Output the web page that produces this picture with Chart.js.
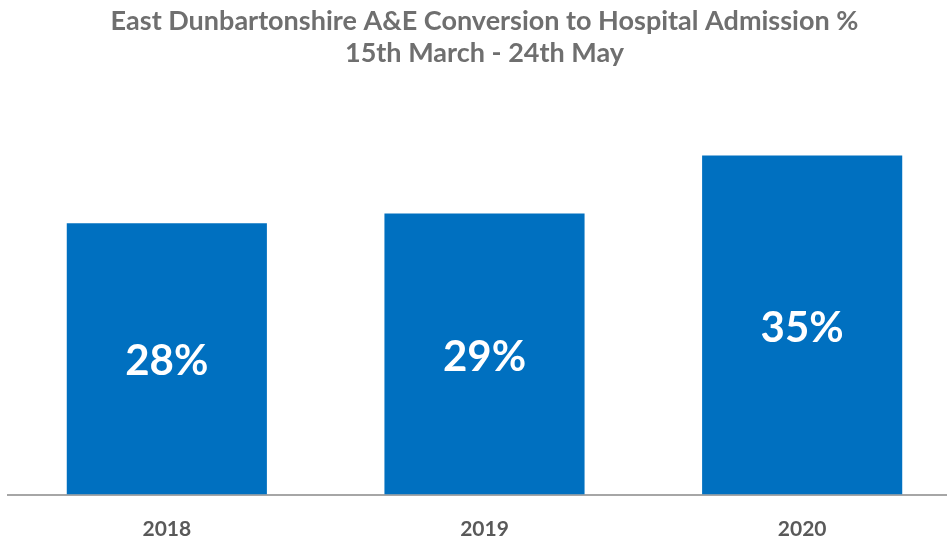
<!DOCTYPE html>
<html>
<head>
<meta charset="utf-8">
<script src="https://cdn.jsdelivr.net/npm/chart.js@4"></script>
<style>
  html, body { margin: 0; padding: 0; background: #fff; overflow: hidden; }
  #wrap { width: 961px; height: 538px; }
</style>
</head>
<body>
<div id="wrap"><canvas id="myChart" width="961" height="538"></canvas></div>
<script>
const years = ['2018', '2019', '2020'];
const conversion = [28, 29, 35];
const titleLines = ['East Dunbartonshire A&E Conversion to Hospital Admission %', '15th March - 24th May'];

// white % labels in the middle of each bar
const barLabels = {
  id: 'barLabels',
  afterDatasetsDraw(chart) {
    const ctx = chart.ctx;
    const meta = chart.getDatasetMeta(0);
    ctx.save();
    ctx.fillStyle = '#ffffff';
    ctx.font = 'bold 42px Lato';
    ctx.textAlign = 'center';
    ctx.textBaseline = 'middle';
    meta.data.forEach(function(bar, i) {
      ctx.fillText(conversion[i] + '%', bar.x, (bar.y + bar.base) / 2 + 3);
    });
    ctx.restore();
  }
};

new Chart(document.getElementById('myChart'), {
  type: 'bar',
  data: {
    labels: years,
    datasets: [{
      data: conversion,
      backgroundColor: '#0070C0',
      barPercentage: 0.63,
      categoryPercentage: 1
    }]
  },
  options: {
    responsive: false,
    animation: false,
    devicePixelRatio: 1,
    layout: { padding: { left: 8, right: 0, top: 0, bottom: 0 } },
    plugins: {
      legend: { display: false },
      tooltip: { enabled: false },
      title: {
        display: true,
        text: titleLines,
        color: '#6f6f6f',
        font: { family: 'Lato', size: 27, weight: 'bold', lineHeight: 1.185 },
        padding: { top: 5, bottom: 38 }
      }
    },
    scales: {
      x: {
        grid: { display: false },
        border: { display: true, color: '#a6a6a6', width: 2 },
        ticks: {
          color: '#595959',
          font: { family: 'Lato', size: 21, weight: 'bold' },
          padding: 14
        },
        afterFit(scale) { scale.height = 43.5; }
      },
      y: {
        display: false,
        min: 0,
        max: 40
      }
    }
  },
  plugins: [barLabels]
});
</script>
</body>
</html>
